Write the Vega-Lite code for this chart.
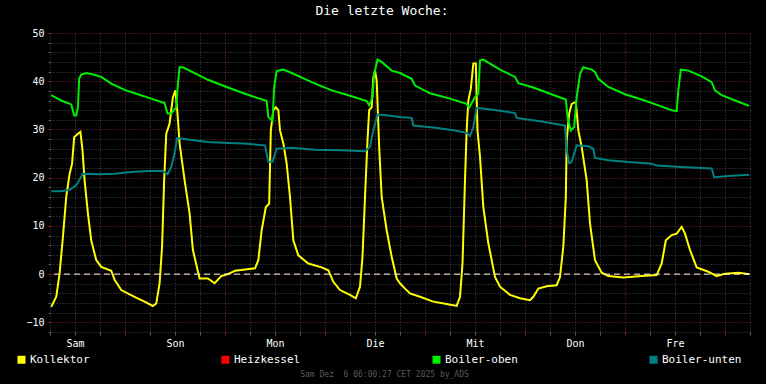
{
  "$schema": "https://vega.github.io/schema/vega-lite/v6.json",
  "width": 700,
  "height": 299,
  "autosize": {"type": "none"},
  "padding": {"left": 50, "top": 33, "right": 16, "bottom": 52},
  "background": "#000000",
  "title": {"text": "Die letzte Woche:", "font": "DejaVu Sans Mono", "fontSize": 13, "fontWeight": "normal", "color": "#ffffff", "anchor": "middle", "dx": -18, "offset": 0, "baseline": "alphabetic"},
  "config": {"view": {"stroke": null}},
  "datasets": {
    "temps": [
      {"s":"Kollektor","h":0.3,"v":-6.8},{"s":"Kollektor","h":1.5,"v":-4.7},{"s":"Kollektor","h":2.3,"v":0.1},{"s":"Kollektor","h":3.1,"v":7.7},{"s":"Kollektor","h":3.9,"v":16.0},{"s":"Kollektor","h":4.7,"v":20.8},{"s":"Kollektor","h":5.3,"v":22.9},{"s":"Kollektor","h":5.8,"v":28.4},{"s":"Kollektor","h":6.7,"v":29.1},{"s":"Kollektor","h":7.3,"v":29.5},{"s":"Kollektor","h":7.8,"v":25.7},{"s":"Kollektor","h":8.3,"v":19.5},{"s":"Kollektor","h":9.1,"v":12.6},{"s":"Kollektor","h":9.9,"v":7.0},{"s":"Kollektor","h":11.1,"v":2.9},{"s":"Kollektor","h":12.3,"v":1.5},{"s":"Kollektor","h":14.7,"v":0.7},{"s":"Kollektor","h":15.5,"v":-1.2},{"s":"Kollektor","h":17.1,"v":-3.3},{"s":"Kollektor","h":20.3,"v":-4.7},{"s":"Kollektor","h":22.7,"v":-5.7},{"s":"Kollektor","h":24.7,"v":-6.6},{"s":"Kollektor","h":25.5,"v":-6.1},{"s":"Kollektor","h":26.3,"v":-1.9},{"s":"Kollektor","h":26.9,"v":5.7},{"s":"Kollektor","h":27.4,"v":19.5},{"s":"Kollektor","h":27.9,"v":29.1},{"s":"Kollektor","h":28.7,"v":31.2},{"s":"Kollektor","h":29.1,"v":34.0},{"s":"Kollektor","h":29.5,"v":36.7},{"s":"Kollektor","h":30.1,"v":38.1},{"s":"Kollektor","h":30.6,"v":33.3},{"s":"Kollektor","h":31.1,"v":27.1},{"s":"Kollektor","h":32.3,"v":19.5},{"s":"Kollektor","h":33.5,"v":12.6},{"s":"Kollektor","h":34.3,"v":5.0},{"s":"Kollektor","h":35.9,"v":-0.9},{"s":"Kollektor","h":37.9,"v":-0.9},{"s":"Kollektor","h":39.5,"v":-1.9},{"s":"Kollektor","h":41.1,"v":-0.4},{"s":"Kollektor","h":42.7,"v":0.0},{"s":"Kollektor","h":44.4,"v":0.7},{"s":"Kollektor","h":49.2,"v":1.2},{"s":"Kollektor","h":50.0,"v":2.9},{"s":"Kollektor","h":50.8,"v":9.1},{"s":"Kollektor","h":51.8,"v":13.9},{"s":"Kollektor","h":52.6,"v":14.6},{"s":"Kollektor","h":53.0,"v":29.8},{"s":"Kollektor","h":53.6,"v":34.0},{"s":"Kollektor","h":54.2,"v":34.6},{"s":"Kollektor","h":54.8,"v":34.0},{"s":"Kollektor","h":55.2,"v":29.8},{"s":"Kollektor","h":56.0,"v":27.1},{"s":"Kollektor","h":56.8,"v":22.9},{"s":"Kollektor","h":57.6,"v":16.0},{"s":"Kollektor","h":58.4,"v":7.0},{"s":"Kollektor","h":59.6,"v":3.9},{"s":"Kollektor","h":62.0,"v":2.2},{"s":"Kollektor","h":65.2,"v":1.4},{"s":"Kollektor","h":66.8,"v":0.8},{"s":"Kollektor","h":68.0,"v":-1.6},{"s":"Kollektor","h":69.6,"v":-3.3},{"s":"Kollektor","h":72.0,"v":-4.3},{"s":"Kollektor","h":73.4,"v":-5.0},{"s":"Kollektor","h":74.4,"v":-2.6},{"s":"Kollektor","h":75.0,"v":3.6},{"s":"Kollektor","h":75.6,"v":16.0},{"s":"Kollektor","h":76.2,"v":27.7},{"s":"Kollektor","h":76.6,"v":34.0},{"s":"Kollektor","h":77.2,"v":34.6},{"s":"Kollektor","h":77.6,"v":40.9},{"s":"Kollektor","h":78.0,"v":42.2},{"s":"Kollektor","h":78.4,"v":40.2},{"s":"Kollektor","h":79.0,"v":26.4},{"s":"Kollektor","h":79.6,"v":16.0},{"s":"Kollektor","h":80.8,"v":9.1},{"s":"Kollektor","h":82.0,"v":3.6},{"s":"Kollektor","h":83.2,"v":-0.9},{"s":"Kollektor","h":84.0,"v":-1.9},{"s":"Kollektor","h":85.2,"v":-3.0},{"s":"Kollektor","h":86.4,"v":-4.0},{"s":"Kollektor","h":88.8,"v":-4.7},{"s":"Kollektor","h":92.0,"v":-5.7},{"s":"Kollektor","h":95.2,"v":-6.2},{"s":"Kollektor","h":97.6,"v":-6.6},{"s":"Kollektor","h":98.4,"v":-4.7},{"s":"Kollektor","h":99.0,"v":2.2},{"s":"Kollektor","h":99.6,"v":19.5},{"s":"Kollektor","h":100.0,"v":29.8},{"s":"Kollektor","h":100.4,"v":36.0},{"s":"Kollektor","h":101.0,"v":38.4},{"s":"Kollektor","h":101.6,"v":43.7},{"s":"Kollektor","h":102.2,"v":43.7},{"s":"Kollektor","h":102.6,"v":29.8},{"s":"Kollektor","h":103.2,"v":24.3},{"s":"Kollektor","h":104.0,"v":13.9},{"s":"Kollektor","h":105.2,"v":6.4},{"s":"Kollektor","h":106.8,"v":-0.6},{"s":"Kollektor","h":108.0,"v":-2.6},{"s":"Kollektor","h":110.4,"v":-4.3},{"s":"Kollektor","h":112.8,"v":-5.0},{"s":"Kollektor","h":115.2,"v":-5.4},{"s":"Kollektor","h":116.0,"v":-4.7},{"s":"Kollektor","h":117.2,"v":-3.0},{"s":"Kollektor","h":119.2,"v":-2.5},{"s":"Kollektor","h":121.6,"v":-2.3},{"s":"Kollektor","h":122.4,"v":-0.6},{"s":"Kollektor","h":123.2,"v":5.7},{"s":"Kollektor","h":123.8,"v":16.0},{"s":"Kollektor","h":124.0,"v":27.7},{"s":"Kollektor","h":124.6,"v":33.3},{"s":"Kollektor","h":125.2,"v":35.3},{"s":"Kollektor","h":126.2,"v":35.7},{"s":"Kollektor","h":126.8,"v":29.8},{"s":"Kollektor","h":127.6,"v":26.4},{"s":"Kollektor","h":128.8,"v":19.5},{"s":"Kollektor","h":129.6,"v":10.5},{"s":"Kollektor","h":130.8,"v":2.9},{"s":"Kollektor","h":132.4,"v":0.3},{"s":"Kollektor","h":134.0,"v":-0.4},{"s":"Kollektor","h":137.6,"v":-0.7},{"s":"Kollektor","h":142.0,"v":-0.4},{"s":"Kollektor","h":145.6,"v":-0.2},{"s":"Kollektor","h":146.8,"v":2.2},{"s":"Kollektor","h":147.8,"v":7.0},{"s":"Kollektor","h":149.2,"v":8.1},{"s":"Kollektor","h":150.4,"v":8.4},{"s":"Kollektor","h":151.6,"v":9.8},{"s":"Kollektor","h":152.4,"v":8.4},{"s":"Kollektor","h":153.6,"v":5.0},{"s":"Kollektor","h":155.2,"v":1.4},{"s":"Kollektor","h":158.0,"v":0.5},{"s":"Kollektor","h":160.0,"v":-0.4},{"s":"Kollektor","h":162.0,"v":0.1},{"s":"Kollektor","h":165.3,"v":0.3},{"s":"Kollektor","h":167.8,"v":0.0},
      {"s":"Boiler-oben","h":0.3,"v":37.1},{"s":"Boiler-oben","h":2.7,"v":36.0},{"s":"Boiler-oben","h":5.1,"v":35.2},{"s":"Boiler-oben","h":5.8,"v":32.9},{"s":"Boiler-oben","h":6.3,"v":32.9},{"s":"Boiler-oben","h":6.7,"v":34.6},{"s":"Boiler-oben","h":7.0,"v":40.5},{"s":"Boiler-oben","h":7.5,"v":41.4},{"s":"Boiler-oben","h":8.7,"v":41.7},{"s":"Boiler-oben","h":9.9,"v":41.5},{"s":"Boiler-oben","h":12.3,"v":40.9},{"s":"Boiler-oben","h":14.7,"v":39.5},{"s":"Boiler-oben","h":17.9,"v":38.2},{"s":"Boiler-oben","h":21.1,"v":37.3},{"s":"Boiler-oben","h":24.3,"v":36.4},{"s":"Boiler-oben","h":27.5,"v":35.5},{"s":"Boiler-oben","h":28.2,"v":33.3},{"s":"Boiler-oben","h":29.1,"v":33.3},{"s":"Boiler-oben","h":30.3,"v":34.6},{"s":"Boiler-oben","h":30.7,"v":39.5},{"s":"Boiler-oben","h":31.1,"v":42.9},{"s":"Boiler-oben","h":31.9,"v":42.9},{"s":"Boiler-oben","h":34.7,"v":41.7},{"s":"Boiler-oben","h":37.9,"v":40.3},{"s":"Boiler-oben","h":42.7,"v":38.7},{"s":"Boiler-oben","h":46.8,"v":37.4},{"s":"Boiler-oben","h":52.0,"v":35.9},{"s":"Boiler-oben","h":52.4,"v":32.6},{"s":"Boiler-oben","h":53.4,"v":31.7},{"s":"Boiler-oben","h":53.8,"v":38.8},{"s":"Boiler-oben","h":54.4,"v":42.1},{"s":"Boiler-oben","h":56.0,"v":42.4},{"s":"Boiler-oben","h":58.0,"v":41.7},{"s":"Boiler-oben","h":62.8,"v":39.8},{"s":"Boiler-oben","h":67.6,"v":38.1},{"s":"Boiler-oben","h":72.4,"v":36.9},{"s":"Boiler-oben","h":76.0,"v":35.9},{"s":"Boiler-oben","h":76.6,"v":35.0},{"s":"Boiler-oben","h":77.4,"v":36.7},{"s":"Boiler-oben","h":77.8,"v":41.5},{"s":"Boiler-oben","h":78.6,"v":44.5},{"s":"Boiler-oben","h":79.6,"v":44.0},{"s":"Boiler-oben","h":82.0,"v":42.2},{"s":"Boiler-oben","h":84.0,"v":41.7},{"s":"Boiler-oben","h":86.8,"v":40.5},{"s":"Boiler-oben","h":87.6,"v":39.1},{"s":"Boiler-oben","h":91.2,"v":37.5},{"s":"Boiler-oben","h":96.0,"v":36.4},{"s":"Boiler-oben","h":100.0,"v":35.3},{"s":"Boiler-oben","h":100.6,"v":34.5},{"s":"Boiler-oben","h":102.0,"v":36.7},{"s":"Boiler-oben","h":102.8,"v":37.4},{"s":"Boiler-oben","h":103.2,"v":44.3},{"s":"Boiler-oben","h":104.0,"v":44.5},{"s":"Boiler-oben","h":108.0,"v":42.4},{"s":"Boiler-oben","h":111.6,"v":40.9},{"s":"Boiler-oben","h":112.4,"v":39.6},{"s":"Boiler-oben","h":116.0,"v":38.7},{"s":"Boiler-oben","h":120.0,"v":37.4},{"s":"Boiler-oben","h":123.8,"v":36.2},{"s":"Boiler-oben","h":124.2,"v":32.6},{"s":"Boiler-oben","h":125.0,"v":29.8},{"s":"Boiler-oben","h":125.8,"v":30.5},{"s":"Boiler-oben","h":126.4,"v":36.7},{"s":"Boiler-oben","h":127.2,"v":41.5},{"s":"Boiler-oben","h":128.0,"v":42.9},{"s":"Boiler-oben","h":130.0,"v":42.4},{"s":"Boiler-oben","h":130.8,"v":41.9},{"s":"Boiler-oben","h":131.6,"v":40.5},{"s":"Boiler-oben","h":134.0,"v":38.8},{"s":"Boiler-oben","h":138.0,"v":37.3},{"s":"Boiler-oben","h":142.0,"v":36.2},{"s":"Boiler-oben","h":146.0,"v":35.0},{"s":"Boiler-oben","h":149.2,"v":34.0},{"s":"Boiler-oben","h":150.4,"v":33.8},{"s":"Boiler-oben","h":150.8,"v":38.1},{"s":"Boiler-oben","h":151.4,"v":42.4},{"s":"Boiler-oben","h":153.2,"v":42.2},{"s":"Boiler-oben","h":156.4,"v":41.0},{"s":"Boiler-oben","h":158.8,"v":39.8},{"s":"Boiler-oben","h":159.6,"v":38.1},{"s":"Boiler-oben","h":161.2,"v":37.1},{"s":"Boiler-oben","h":164.4,"v":36.0},{"s":"Boiler-oben","h":167.8,"v":34.9},
      {"s":"Boiler-unten","h":0.3,"v":17.2},{"s":"Boiler-unten","h":2.7,"v":17.2},{"s":"Boiler-unten","h":4.7,"v":17.5},{"s":"Boiler-unten","h":6.3,"v":18.4},{"s":"Boiler-unten","h":7.9,"v":20.8},{"s":"Boiler-unten","h":11.5,"v":20.7},{"s":"Boiler-unten","h":15.5,"v":20.8},{"s":"Boiler-unten","h":19.5,"v":21.2},{"s":"Boiler-unten","h":23.5,"v":21.4},{"s":"Boiler-unten","h":27.1,"v":21.4},{"s":"Boiler-unten","h":28.2,"v":20.7},{"s":"Boiler-unten","h":29.1,"v":22.2},{"s":"Boiler-unten","h":29.9,"v":25.0},{"s":"Boiler-unten","h":30.5,"v":28.2},{"s":"Boiler-unten","h":33.1,"v":27.9},{"s":"Boiler-unten","h":37.9,"v":27.4},{"s":"Boiler-unten","h":42.7,"v":27.2},{"s":"Boiler-unten","h":46.4,"v":27.1},{"s":"Boiler-unten","h":51.6,"v":26.7},{"s":"Boiler-unten","h":52.4,"v":23.3},{"s":"Boiler-unten","h":53.4,"v":23.3},{"s":"Boiler-unten","h":54.4,"v":26.0},{"s":"Boiler-unten","h":58.0,"v":26.2},{"s":"Boiler-unten","h":63.6,"v":25.8},{"s":"Boiler-unten","h":70.0,"v":25.7},{"s":"Boiler-unten","h":75.6,"v":25.5},{"s":"Boiler-unten","h":76.8,"v":26.4},{"s":"Boiler-unten","h":77.6,"v":29.8},{"s":"Boiler-unten","h":78.6,"v":33.1},{"s":"Boiler-unten","h":81.2,"v":32.9},{"s":"Boiler-unten","h":84.0,"v":32.6},{"s":"Boiler-unten","h":86.8,"v":32.4},{"s":"Boiler-unten","h":87.2,"v":30.8},{"s":"Boiler-unten","h":92.0,"v":30.4},{"s":"Boiler-unten","h":97.2,"v":29.8},{"s":"Boiler-unten","h":100.0,"v":29.3},{"s":"Boiler-unten","h":100.8,"v":28.6},{"s":"Boiler-unten","h":101.6,"v":30.5},{"s":"Boiler-unten","h":102.4,"v":34.5},{"s":"Boiler-unten","h":107.2,"v":34.0},{"s":"Boiler-unten","h":111.6,"v":33.4},{"s":"Boiler-unten","h":112.0,"v":32.4},{"s":"Boiler-unten","h":117.6,"v":31.7},{"s":"Boiler-unten","h":123.6,"v":30.8},{"s":"Boiler-unten","h":124.0,"v":25.7},{"s":"Boiler-unten","h":124.6,"v":23.0},{"s":"Boiler-unten","h":125.2,"v":23.3},{"s":"Boiler-unten","h":126.4,"v":26.7},{"s":"Boiler-unten","h":129.2,"v":26.5},{"s":"Boiler-unten","h":130.4,"v":26.0},{"s":"Boiler-unten","h":130.8,"v":24.1},{"s":"Boiler-unten","h":134.0,"v":23.6},{"s":"Boiler-unten","h":138.0,"v":23.3},{"s":"Boiler-unten","h":144.4,"v":22.9},{"s":"Boiler-unten","h":145.6,"v":22.5},{"s":"Boiler-unten","h":151.6,"v":22.2},{"s":"Boiler-unten","h":158.8,"v":21.9},{"s":"Boiler-unten","h":159.4,"v":20.1},{"s":"Boiler-unten","h":163.6,"v":20.4},{"s":"Boiler-unten","h":167.8,"v":20.6}
    ]
  },
  "data": {"name": "temps"},
  "layer": [
    {
      "mark": {"type": "line", "strokeWidth": 2, "interpolate": "linear"},
      "encoding": {
        "x": {
          "field": "h", "type": "quantitative",
          "scale": {"domain": [0, 168], "nice": false, "zero": false},
          "axis": {
            "values": [0,6,12,18,24,30,36,42,48,54,60,66,72,78,84,90,96,102,108,114,120,126,132,138,144,150,156,162,168],
            "tickCount": 200,
            "labelExpr": "datum.value % 24 == 6 ? ['Sam','Son','Mon','Die','Mit','Don','Fre'][floor(datum.value / 24)] : ''",
            "labelFont": "DejaVu Sans Mono", "labelFontSize": 10, "labelColor": "#ffffff",
            "labelOverlap": false, "labelFlush": false, "labelBound": false, "labelPadding": 3,
            "domain": false,
            "grid": true, "gridDash": [1, 2], "gridWidth": 1,
            "gridColor": {"condition": {"test": "datum.value % 24 == 18", "value": "#8a2a2a"}, "value": "#4a4a4a"},
            "ticks": true, "tickSize": 3,
            "tickColor": {"condition": {"test": "datum.value % 24 == 18", "value": "#a02020"}, "value": "#606060"},
            "title": "Sam Dez \u00a06 06:00:27 CET 2025 by_ADS",
            "titleFont": "DejaVu Sans Mono", "titleFontSize": 8, "titleFontWeight": "normal", "titleColor": "#5a5a5a",
            "titleX": 334, "titleY": 44, "titleAlign": "center", "titleBaseline": "alphabetic", "titleAnchor": null
          }
        },
        "y": {
          "field": "v", "type": "quantitative",
          "scale": {"domain": [-12, 50], "nice": false, "zero": false},
          "axis": {
            "values": [-12,-10,-8,-6,-4,-2,0,2,4,6,8,10,12,14,16,18,20,22,24,26,28,30,32,34,36,38,40,42,44,46,48,50],
            "tickCount": 200,
            "labelExpr": "datum.value % 10 == 0 ? format(datum.value, 'd') : ''",
            "labelFont": "DejaVu Sans Mono", "labelFontSize": 10, "labelColor": "#ffffff",
            "labelOverlap": false, "labelFlush": false, "labelBound": false, "labelPadding": 4,
            "domain": false,
            "grid": true, "gridDash": [1, 2], "gridWidth": 1,
            "gridColor": {"condition": {"test": "datum.value % 10 == 0", "value": "#8a2a2a"}, "value": "#4a4a4a"},
            "ticks": true, "tickSize": 2,
            "tickColor": {"condition": {"test": "datum.value % 10 == 0", "value": "#a02020"}, "value": "#606060"},
            "title": null
          }
        },
        "color": {
          "field": "s", "type": "nominal",
          "scale": {"domain": ["Kollektor", "Heizkessel", "Boiler-oben", "Boiler-unten"], "range": ["#ffff00", "#ff0000", "#00ee00", "#008080"]},
          "legend": {
            "title": null, "orient": "none", "legendX": -34, "legendY": 321,
            "direction": "horizontal", "columns": 4, "columnPadding": 125,
            "symbolType": "square", "symbolSize": 16, "symbolStrokeWidth": 4, "symbolOpacity": 1,
            "labelFont": "DejaVu Sans Mono", "labelFontSize": 11, "labelColor": "#ffffff", "labelOffset": 3,
            "encode": {"symbols": {"update": {"fill": {"scale": "color", "field": "value"}, "fillOpacity": {"value": 1}}}}
          }
        }
      }
    },
    {
      "data": {"values": [{"v": 0}]},
      "mark": {"type": "rule", "strokeDash": [6, 4], "color": "#ffffee", "strokeWidth": 1},
      "encoding": {"y": {"field": "v", "type": "quantitative"}}
    }
  ]
}
